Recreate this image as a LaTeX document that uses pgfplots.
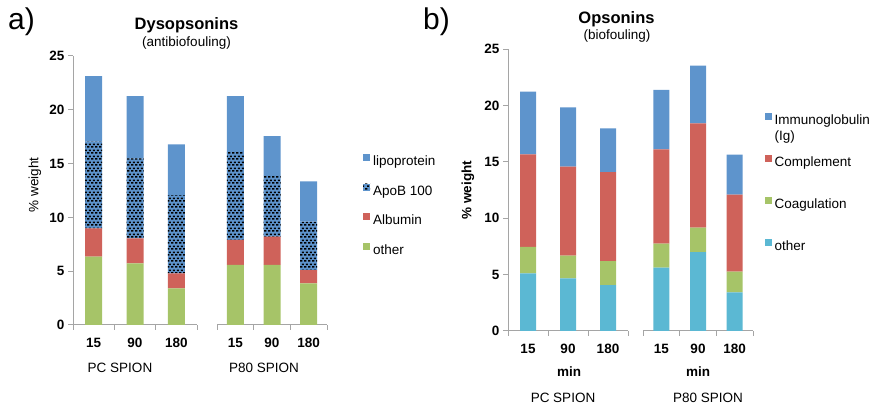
\documentclass[border=0pt]{standalone}
\usepackage{fontspec}
\setmainfont{Liberation Sans}
\usepackage{pgfplots}
\pgfplotsset{compat=1.18}
\usepackage{pgfplotstable}
\usetikzlibrary{patterns.meta}

\definecolor{cblue}{RGB}{94,148,204}
\definecolor{cred}{RGB}{207,98,90}
\definecolor{cgreen}{RGB}{166,196,104}
\definecolor{ccyan}{RGB}{91,184,211}
\definecolor{axgray}{RGB}{165,165,165}

\tikzdeclarepattern{
  name=dashbrick,
  type=uncolored,
  bottom left={(0pt,0pt)},
  top right={(4.4pt,6pt)},
  tile size={(4.4pt,6pt)},
  code={
    \pgfpathrectangle{\pgfpoint{0pt}{0.4pt}}{\pgfpoint{2.6pt}{1.8pt}}
    \pgfpathrectangle{\pgfpoint{2.2pt}{3.4pt}}{\pgfpoint{2.2pt}{1.8pt}}
    \pgfusepath{fill}
  }
}

% Dysopsonins: other, Albumin, ApoB 100, lipoprotein
\pgfplotstableread{
x other alb apob lipo
0 6.35 2.63 8.06 6.10
1 5.73 2.32 7.44 5.79
2 3.41 1.39 7.28 4.71
}\dysPC
\pgfplotstableread{
x other alb apob lipo
0 5.58 2.32 8.18 5.20
1 5.58 2.63 5.64 3.71
2 3.87 1.24 4.49 3.75
}\dysPE
% Opsonins: other, Coagulation, Complement, Immunoglobulin
\pgfplotstableread{
x other coag comp ig
0 5.12 2.34 8.22 5.56
1 4.67 2.02 7.90 5.26
2 4.08 2.13 7.90 3.88
}\opsPC
\pgfplotstableread{
x other coag comp ig
0 5.62 2.13 8.37 5.27
1 7.01 2.16 9.26 5.12
2 3.43 1.84 6.83 3.55
}\opsPE

\newcommand{\tf}{\fontsize{13.5}{16.5}\selectfont}

\pgfplotsset{
  panel/.style={
    scale only axis, anchor=south west,
    ymin=0, ymax=25, xmin=-0.5, xmax=2.5,
    ybar stacked,
    axis x line*=bottom,
    axis line style={axgray, line width=1pt, -},
    xtick={0,1,2}, xticklabels={15,90,180},
    minor xtick={-0.5,0.5,1.5,2.5},
    tick align=outside,
    major tick length=5pt, minor tick length=5pt,
    major x tick style={draw=none},
    minor x tick style={axgray, line width=1pt},
    y tick style={axgray, line width=1pt},
    ticklabel style={font=\tf\bfseries},
    xticklabel style={yshift=-4.5pt},
    /pgf/number format/assume math mode=true,
    every axis plot post/.append style={draw=none,
      legend image code/.code={\fill[##1] (0pt,1.5pt) rectangle (7pt,8.5pt);}},
  },
  withy/.style={axis y line*=left, ytick={0,5,...,25}},
  noy/.style={axis y line=none},
}

\begin{document}
\begin{tikzpicture}
\useasboundingbox (0pt,0pt) rectangle (875pt,406pt);

% ---------- panel a ----------
\node[font=\fontsize{30}{32}\selectfont] at (21.5pt,384pt) {a)};
\node[font=\fontsize{16.5}{18}\selectfont\bfseries, anchor=base] at (186.5pt,376pt) {Dysopsonins};
\node[font=\tf, anchor=base] at (186.5pt,359.5pt) {(antibiofouling)};
\node[font=\tf, rotate=90] at (35pt,221pt) {\% weight};

\begin{axis}[panel, withy, at={(73pt,81pt)}, width=124pt, height=269pt, bar width=17pt]
\addplot[fill=cgreen] table[x=x,y=other]{\dysPC};
\addplot[fill=cred] table[x=x,y=alb]{\dysPC};
\addplot[fill=cblue, postaction={pattern=dashbrick, pattern color=black}] table[x=x,y=apob]{\dysPC};
\addplot[fill=cblue] table[x=x,y=lipo]{\dysPC};
\end{axis}

\begin{axis}[panel, noy, at={(217pt,81pt)}, width=110pt, height=269pt, bar width=17pt,
  reverse legend, legend cell align=left,
  legend style={at={(1.327,0.441)}, anchor=west, draw=none, fill=none, inner sep=0pt,
    row sep=14pt, font=\tf, nodes={inner sep=0pt, text height=10pt, text depth=4pt},
    /tikz/every odd column/.append style={column sep=3pt}}]
\addplot[fill=cgreen] table[x=x,y=other]{\dysPE};
\addplot[fill=cred] table[x=x,y=alb]{\dysPE};
\addplot[fill=cblue, postaction={pattern=dashbrick, pattern color=black}] table[x=x,y=apob]{\dysPE};
\addplot[fill=cblue] table[x=x,y=lipo]{\dysPE};
\legend{other,Albumin,ApoB 100,lipoprotein}
\end{axis}

\node[font=\tf, anchor=base] at (120pt,33.5pt) {PC SPION};
\node[font=\tf, anchor=base] at (264pt,33.5pt) {P80 SPION};

% ---------- panel b ----------
\node[font=\fontsize{30}{32}\selectfont] at (436.5pt,384pt) {b)};
\node[font=\fontsize{16.5}{18}\selectfont\bfseries, anchor=base] at (616.5pt,382pt) {Opsonins};
\node[font=\tf, anchor=base] at (617pt,366.5pt) {(biofouling)};
\node[font=\tf\bfseries, rotate=90] at (468pt,216pt) {\% weight};

\begin{axis}[panel, withy, at={(508pt,75pt)}, width=120pt, height=281.7pt, bar width=16pt]
\addplot[fill=ccyan] table[x=x,y=other]{\opsPC};
\addplot[fill=cgreen] table[x=x,y=coag]{\opsPC};
\addplot[fill=cred] table[x=x,y=comp]{\opsPC};
\addplot[fill=cblue] table[x=x,y=ig]{\opsPC};
\end{axis}

\begin{axis}[panel, noy, at={(643pt,75pt)}, width=110pt, height=281.7pt, bar width=16pt,
  reverse legend, legend cell align=left,
  legend style={at={(1.109,0.523)}, anchor=west, draw=none, fill=none, inner sep=0pt,
    row sep=26.7pt, font=\tf, nodes={inner sep=0pt, text height=10pt, text depth=4pt},
    /tikz/every odd column/.append style={column sep=2.5pt}}]
\addplot[fill=ccyan] table[x=x,y=other]{\opsPE};
\addplot[fill=cgreen] table[x=x,y=coag]{\opsPE};
\addplot[fill=cred] table[x=x,y=comp]{\opsPE};
\addplot[fill=cblue] table[x=x,y=ig]{\opsPE};
\legend{other,Coagulation,Complement,{\begin{tabular}[t]{@{}l@{}}Immunoglobulin\\(Ig)\end{tabular}}}
\end{axis}

\node[font=\tf\bfseries, anchor=base] at (569pt,29.3pt) {min};
\node[font=\tf\bfseries, anchor=base] at (698pt,29.3pt) {min};
\node[font=\tf, anchor=base] at (563pt,3pt) {PC SPION};
\node[font=\tf, anchor=base] at (708pt,3pt) {P80 SPION};
\end{tikzpicture}
\end{document}
